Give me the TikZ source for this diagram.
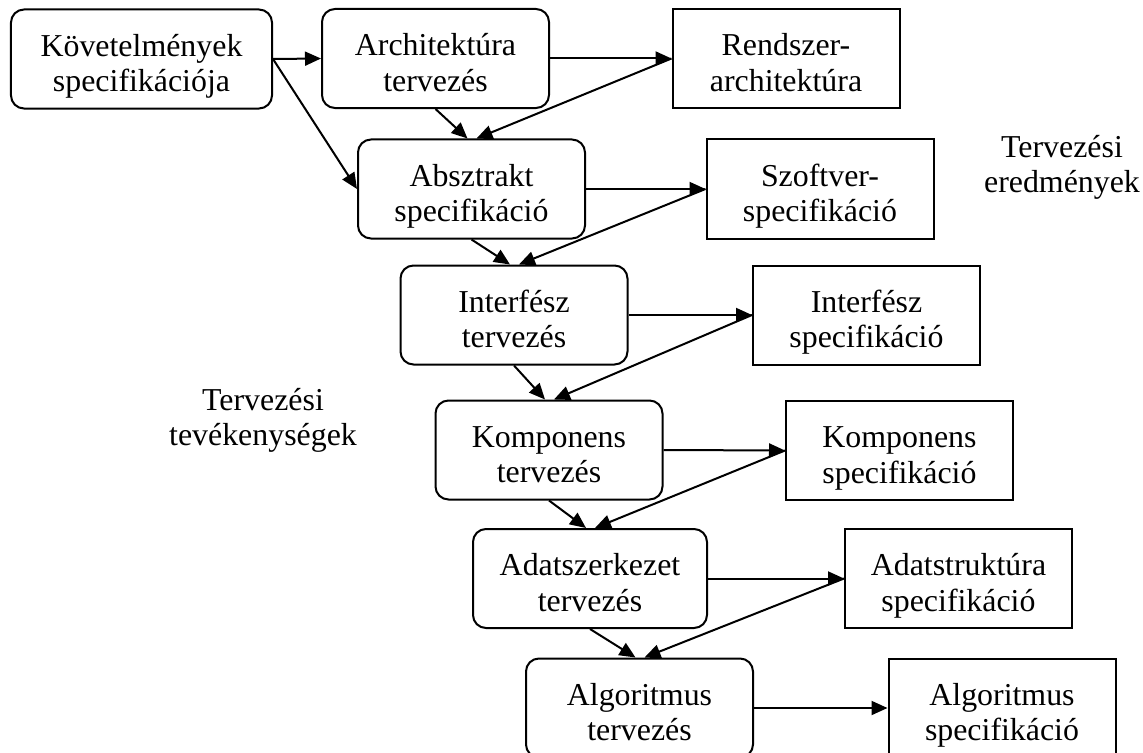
\documentclass[tikz,border=0pt]{standalone}
\usepackage{fontspec}
\setmainfont{Liberation Serif}
\usetikzlibrary{arrows.meta}

% two-line label with fixed strut height/depth so that all boxes set text alike
\newcommand{\twolines}[2]{\rule{0pt}{40bp}#1\\#2\rule[-10bp]{0pt}{10bp}}

\tikzset{
  box/.style={draw, line width=2bp, align=center, inner sep=0pt,
    minimum width=227bp, minimum height=99bp,
    font=\fontsize{32}{36}\selectfont},
  activity/.style={box, rounded corners=13bp},
  result/.style={box},
  caption/.style={align=center, inner sep=0pt, font=\fontsize{32}{36}\selectfont},
  arr/.style={line width=2bp, -{Triangle[length=16bp,width=14bp]}},
}

\begin{document}
\begin{tikzpicture}[x=1bp, y=-1bp]
\useasboundingbox (0,0) rectangle (1143,753);

% design activities
\node[activity, minimum width=261bp] (kov)  at (141.5,59)  {\twolines{Követelmények}{specifikációja}};
\node[activity] (arch) at (435.5,58.5) {\twolines{Architektúra}{tervezés}};
\node[activity] (abs)  at (471.5,189)  {\twolines{Absztrakt}{specifikáció}};
\node[activity] (intf) at (514,315)    {\twolines{Interfész}{tervezés}};
\node[activity] (komp) at (549,450)    {\twolines{Komponens}{tervezés}};
\node[activity, minimum width=234bp] (adat) at (590,578.5) {\twolines{Adatszerkezet}{tervezés}};
\node[activity] (algo) at (639.5,708)  {\twolines{Algoritmus}{tervezés}};

% design results
\node[result] (rs)  at (786,58.5)   {\twolines{Rendszer-}{architektúra}};
\node[result] (sz)  at (820,189)    {\twolines{Szoftver-}{specifikáció}};
\node[result] (is)  at (866.5,315)  {\twolines{Interfész}{specifikáció}};
\node[result] (ks)  at (899.5,450.5){\twolines{Komponens}{specifikáció}};
\node[result] (as)  at (958.5,578.5){\twolines{Adatstruktúra}{specifikáció}};
\node[result] (als) at (1002,708)   {\twolines{Algoritmus}{specifikáció}};

% column captions
\node[caption] (capres) at (1062,160) {\twolines{Tervezési}{eredmények}};
\node[caption] (capact) at (263,413)  {\twolines{Tervezési}{tevékenységek}};

% connectors
\draw[arr] (kov.east) -- (arch.west);
\draw[arr] (kov.east) -- (abs.west);
\draw[arr] (arch.east) -- (rs.west);
\draw[arr] (arch.south) -- ([xshift=-4pt]abs.north);
\draw[arr] (rs.west) -- ([xshift=5pt]abs.north);

\draw[arr] (abs.east) -- (sz.west);
\draw[arr] (abs.south) -- ([xshift=-4pt]intf.north);
\draw[arr] (sz.west) -- ([xshift=5pt]intf.north);

\draw[arr] (intf.east) -- (is.west);
\draw[arr] (intf.south) -- ([xshift=-4pt]komp.north);
\draw[arr] (is.west) -- ([xshift=5pt]komp.north);

\draw[arr] (komp.east) -- (ks.west);
\draw[arr] (komp.south) -- ([xshift=-4pt]adat.north);
\draw[arr] (ks.west) -- ([xshift=5pt]adat.north);

\draw[arr] (adat.east) -- (as.west);
\draw[arr] (adat.south) -- ([xshift=-4pt]algo.north);
\draw[arr] (as.west) -- ([xshift=5pt]algo.north);

\draw[arr] (algo.east) -- (als.west);
\end{tikzpicture}
\end{document}
